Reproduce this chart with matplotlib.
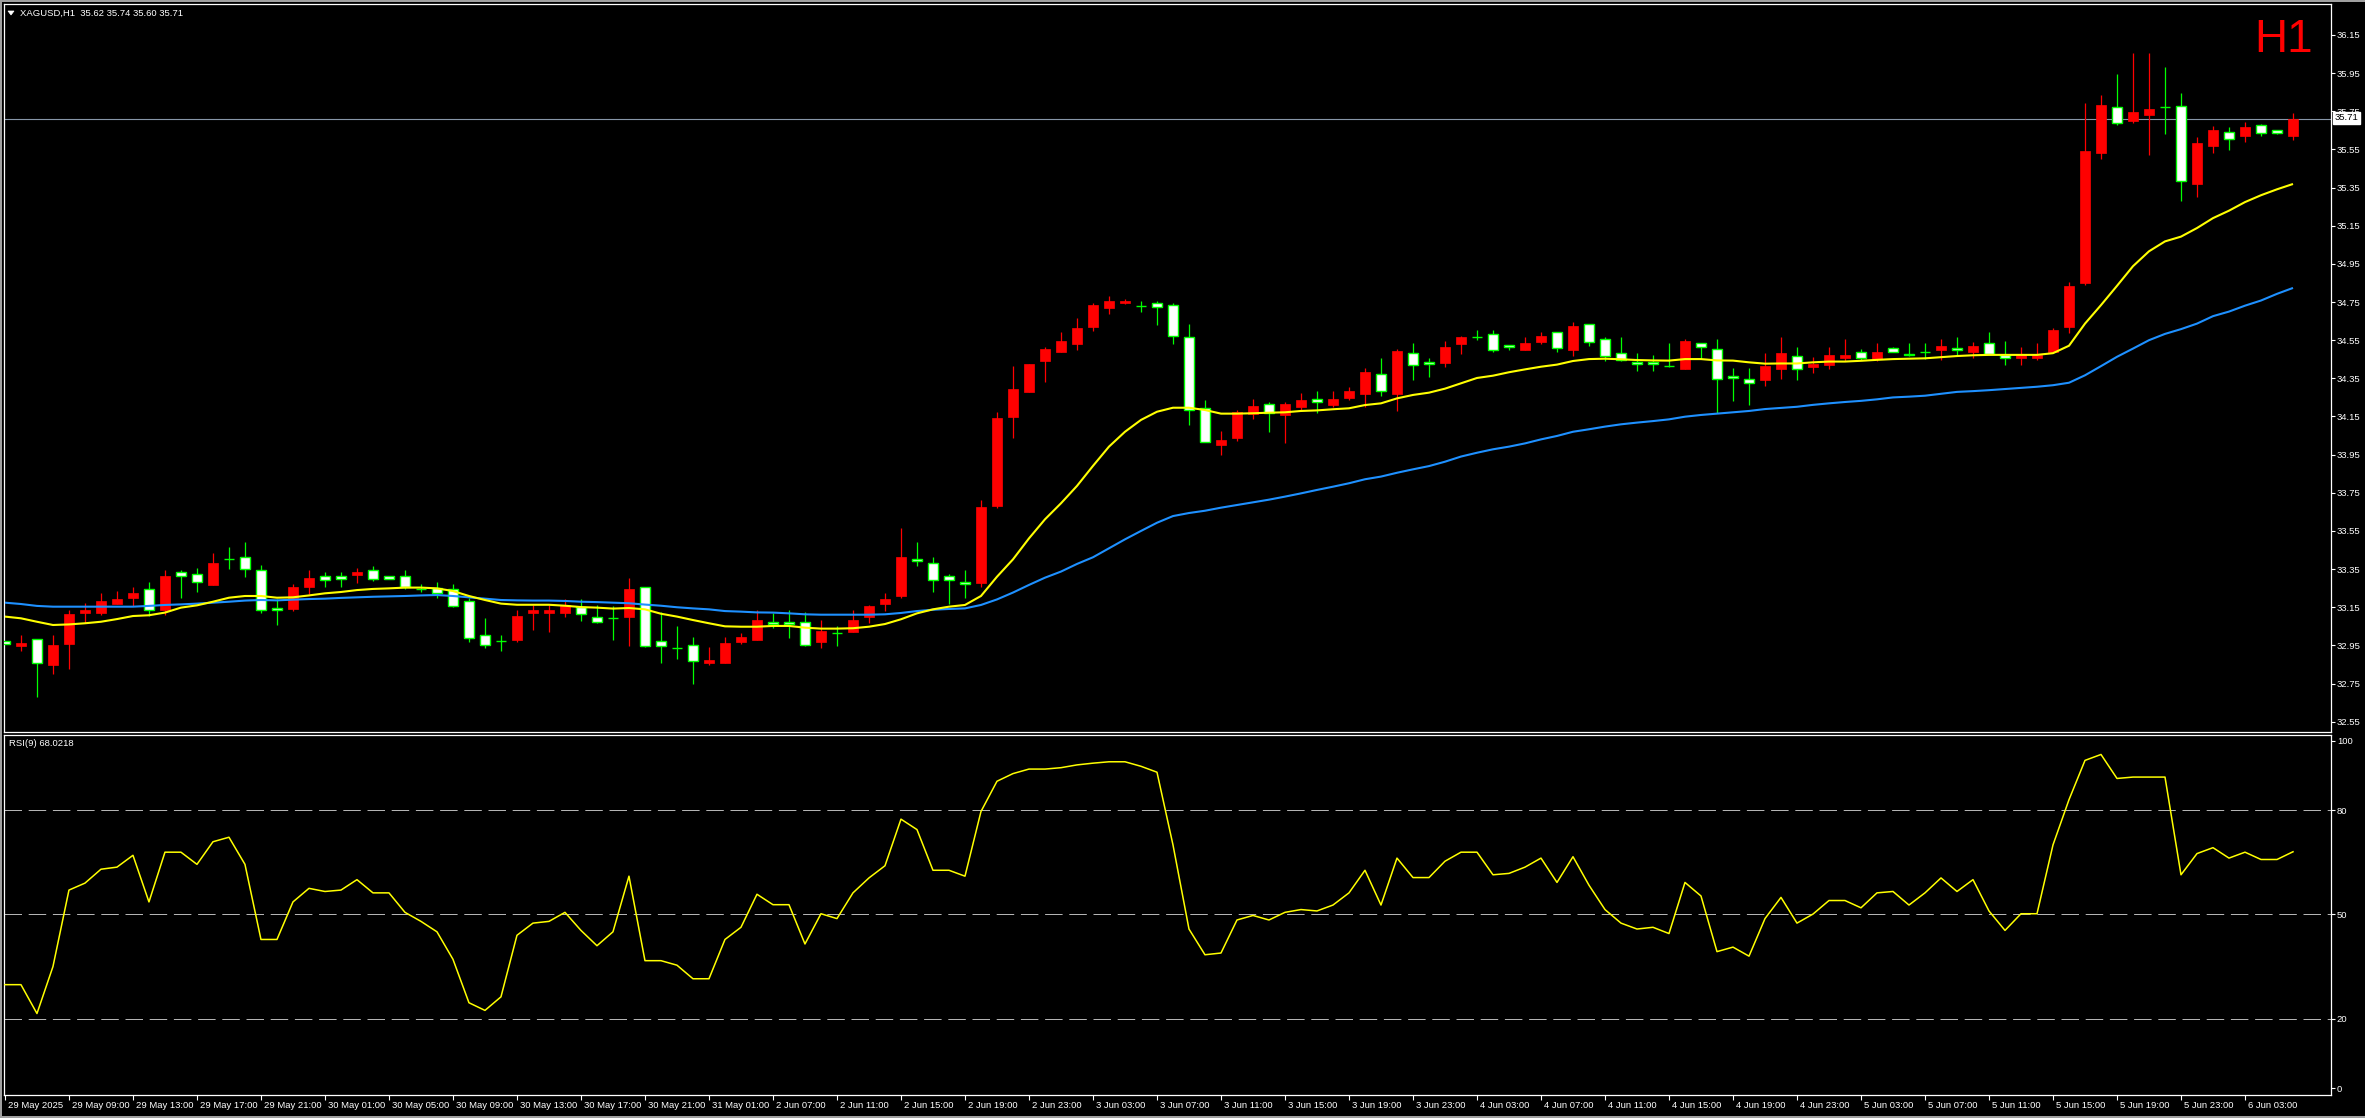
import numpy as np
import matplotlib
matplotlib.use("Agg")
import matplotlib.pyplot as plt
from matplotlib.patches import Rectangle, Polygon
from matplotlib.transforms import ScaledTranslation

# ---------------- data: XAGUSD H1 ----------------
opens = [32.971, 32.949, 32.982, 32.847, 32.959, 33.122, 33.122, 33.169, 33.200, 33.246,
         33.136, 33.333, 33.323, 33.267, 33.401, 33.412, 33.344, 33.146, 33.143, 33.256,
         33.312, 33.314, 33.319, 33.345, 33.314, 33.312, 33.246, 33.251, 33.246, 33.181,
         33.003, 32.971, 32.978, 33.122, 33.122, 33.120, 33.153, 33.101, 33.092, 33.100,
         33.254, 32.971, 32.938, 32.950, 32.860, 32.860, 32.970, 32.980, 33.071, 33.071,
         33.071, 32.970, 33.013, 33.022, 33.100, 33.169, 33.209, 33.401, 33.380, 33.312,
         33.281, 33.279, 33.683, 34.149, 34.280, 34.443, 34.490, 34.532, 34.621, 34.721,
         34.743, 34.729, 34.743, 34.733, 34.565, 34.193, 34.002, 34.039, 34.163, 34.214,
         34.158, 34.200, 34.240, 34.210, 34.247, 34.268, 34.371, 34.268, 34.481, 34.434,
         34.430, 34.532, 34.568, 34.581, 34.523, 34.500, 34.542, 34.591, 34.500, 34.633,
         34.555, 34.481, 34.434, 34.434, 34.413, 34.401, 34.534, 34.502, 34.361, 34.345,
         34.341, 34.399, 34.469, 34.411, 34.420, 34.457, 34.490, 34.453, 34.511, 34.480,
         34.490, 34.500, 34.511, 34.488, 34.533, 34.471, 34.457, 34.457, 34.488, 34.620,
         34.849, 35.531, 35.770, 35.700, 35.729, 35.770, 35.780, 35.370, 35.568, 35.644,
         35.621, 35.679, 35.650, 35.620]
highs = [32.975, 33.004, 32.982, 33.004, 33.136, 33.170, 33.225, 33.235, 33.256, 33.282,
         33.345, 33.345, 33.356, 33.434, 33.466, 33.492, 33.370, 33.195, 33.272, 33.345,
         33.335, 33.335, 33.356, 33.366, 33.316, 33.345, 33.270, 33.282, 33.272, 33.200,
         33.094, 33.003, 33.136, 33.162, 33.162, 33.191, 33.191, 33.162, 33.157, 33.303,
         33.254, 33.123, 33.052, 32.994, 32.942, 32.994, 33.015, 33.136, 33.118, 33.136,
         33.123, 33.083, 33.052, 33.136, 33.162, 33.225, 33.565, 33.492, 33.412, 33.323,
         33.344, 33.712, 34.172, 34.415, 34.427, 34.514, 34.593, 34.666, 34.745, 34.782,
         34.764, 34.754, 34.754, 34.743, 34.635, 34.237, 34.074, 34.184, 34.242, 34.226,
         34.226, 34.273, 34.284, 34.284, 34.305, 34.404, 34.457, 34.504, 34.535, 34.457,
         34.546, 34.572, 34.603, 34.603, 34.525, 34.567, 34.593, 34.593, 34.645, 34.635,
         34.567, 34.567, 34.483, 34.472, 34.535, 34.556, 34.536, 34.556, 34.404, 34.404,
         34.483, 34.566, 34.513, 34.461, 34.513, 34.556, 34.504, 34.533, 34.514, 34.533,
         34.533, 34.556, 34.566, 34.543, 34.593, 34.544, 34.513, 34.535, 34.612, 34.855,
         35.793, 35.834, 35.944, 36.055, 36.055, 35.981, 35.846, 35.615, 35.671, 35.669,
         35.692, 35.681, 35.652, 35.740]
lows = [32.955, 32.921, 32.681, 32.802, 32.826, 33.066, 33.109, 33.165, 33.157, 33.106,
        33.111, 33.200, 33.232, 33.265, 33.350, 33.310, 33.122, 33.057, 33.132, 33.219,
        33.256, 33.256, 33.277, 33.289, 33.298, 33.244, 33.232, 33.200, 33.153, 32.968,
        32.938, 32.921, 32.968, 33.031, 33.020, 33.099, 33.078, 33.069, 32.980, 32.949,
        32.940, 32.858, 32.879, 32.750, 32.849, 32.858, 32.959, 32.978, 33.043, 32.991,
        32.948, 32.938, 32.949, 33.020, 33.069, 33.130, 33.200, 33.368, 33.232, 33.169,
        33.200, 33.258, 33.672, 34.037, 34.278, 34.333, 34.488, 34.500, 34.600, 34.689,
        34.741, 34.700, 34.630, 34.532, 34.103, 34.015, 33.950, 34.023, 34.139, 34.070,
        34.011, 34.184, 34.170, 34.200, 34.236, 34.200, 34.257, 34.179, 34.343, 34.357,
        34.410, 34.478, 34.551, 34.490, 34.500, 34.498, 34.532, 34.490, 34.469, 34.521,
        34.443, 34.439, 34.388, 34.388, 34.411, 34.399, 34.451, 34.167, 34.231, 34.210,
        34.310, 34.347, 34.343, 34.380, 34.399, 34.442, 34.445, 34.442, 34.488, 34.469,
        34.451, 34.444, 34.471, 34.457, 34.478, 34.420, 34.420, 34.444, 34.486, 34.589,
        34.839, 35.500, 35.679, 35.690, 35.520, 35.632, 35.281, 35.299, 35.533, 35.549,
        35.590, 35.621, 35.632, 35.600]
closes = [32.959, 32.963, 32.859, 32.952, 33.115, 33.136, 33.183, 33.193, 33.225, 33.134,
          33.314, 33.312, 33.281, 33.382, 33.401, 33.352, 33.134, 33.134, 33.256, 33.303,
          33.291, 33.300, 33.335, 33.300, 33.300, 33.258, 33.246, 33.223, 33.158, 32.990,
          32.950, 32.971, 33.104, 33.136, 33.136, 33.162, 33.113, 33.071, 33.092, 33.246,
          32.949, 32.949, 32.938, 32.870, 32.874, 32.963, 32.994, 33.083, 33.061, 33.061,
          32.950, 33.025, 33.013, 33.083, 33.157, 33.193, 33.413, 33.391, 33.291, 33.291,
          33.270, 33.676, 34.140, 34.292, 34.425, 34.504, 34.546, 34.614, 34.735, 34.756,
          34.756, 34.729, 34.722, 34.570, 34.184, 34.015, 34.027, 34.174, 34.205, 34.170,
          34.216, 34.236, 34.224, 34.242, 34.284, 34.383, 34.282, 34.493, 34.422, 34.423,
          34.514, 34.567, 34.568, 34.500, 34.513, 34.535, 34.572, 34.511, 34.624, 34.542,
          34.469, 34.446, 34.423, 34.423, 34.413, 34.546, 34.513, 34.345, 34.350, 34.324,
          34.415, 34.482, 34.401, 34.426, 34.471, 34.471, 34.459, 34.490, 34.490, 34.471,
          34.490, 34.521, 34.500, 34.521, 34.480, 34.457, 34.471, 34.471, 34.603, 34.833,
          35.541, 35.782, 35.690, 35.745, 35.760, 35.770, 35.382, 35.582, 35.652, 35.603,
          35.669, 35.634, 35.634, 35.710]

ma_fast = [33.101, 33.092, 33.074, 33.057, 33.060, 33.066, 33.074, 33.088, 33.104, 33.108,
           33.122, 33.148, 33.160, 33.179, 33.200, 33.209, 33.209, 33.200, 33.202, 33.212,
           33.223, 33.230, 33.240, 33.246, 33.249, 33.253, 33.253, 33.249, 33.235, 33.209,
           33.188, 33.169, 33.163, 33.163, 33.163, 33.158, 33.151, 33.148, 33.143, 33.146,
           33.139, 33.116, 33.101, 33.083, 33.066, 33.050, 33.048, 33.048, 33.052, 33.052,
           33.043, 33.038, 33.038, 33.040, 33.048, 33.062, 33.087, 33.118, 33.139, 33.153,
           33.162, 33.209, 33.310, 33.401, 33.511, 33.611, 33.695, 33.786, 33.891, 33.992,
           34.070, 34.132, 34.175, 34.196, 34.196, 34.184, 34.165, 34.165, 34.167, 34.170,
           34.172, 34.179, 34.182, 34.188, 34.193, 34.210, 34.219, 34.245, 34.263, 34.275,
           34.296, 34.324, 34.352, 34.364, 34.382, 34.397, 34.411, 34.422, 34.441, 34.451,
           34.453, 34.450, 34.446, 34.444, 34.443, 34.451, 34.451, 34.444, 34.443, 34.434,
           34.427, 34.428, 34.428, 34.434, 34.438, 34.438, 34.442, 34.447, 34.451, 34.453,
           34.455, 34.461, 34.467, 34.471, 34.473, 34.473, 34.473, 34.473, 34.482, 34.521,
           34.637, 34.734, 34.835, 34.938, 35.016, 35.068, 35.093, 35.138, 35.190, 35.229,
           35.274, 35.310, 35.341, 35.369]
ma_slow = [33.174, 33.167, 33.157, 33.153, 33.153, 33.153, 33.153, 33.153, 33.153, 33.157,
           33.162, 33.165, 33.169, 33.174, 33.179, 33.185, 33.188, 33.186, 33.190, 33.193,
           33.195, 33.199, 33.202, 33.205, 33.207, 33.209, 33.212, 33.214, 33.209, 33.202,
           33.195, 33.188, 33.186, 33.185, 33.185, 33.183, 33.179, 33.177, 33.174, 33.171,
           33.164, 33.158, 33.150, 33.144, 33.139, 33.130, 33.127, 33.123, 33.122, 33.118,
           33.113, 33.111, 33.111, 33.111, 33.111, 33.113, 33.120, 33.130, 33.137, 33.141,
           33.144, 33.162, 33.191, 33.227, 33.267, 33.305, 33.337, 33.377, 33.412, 33.459,
           33.506, 33.550, 33.593, 33.628, 33.644, 33.656, 33.672, 33.686, 33.700, 33.714,
           33.730, 33.747, 33.765, 33.782, 33.800, 33.821, 33.835, 33.855, 33.873, 33.890,
           33.913, 33.940, 33.960, 33.978, 33.992, 34.009, 34.030, 34.048, 34.070, 34.083,
           34.097, 34.109, 34.118, 34.126, 34.135, 34.149, 34.158, 34.165, 34.172, 34.179,
           34.189, 34.195, 34.201, 34.211, 34.219, 34.226, 34.232, 34.240, 34.250, 34.254,
           34.259, 34.269, 34.279, 34.283, 34.288, 34.294, 34.300, 34.306, 34.314, 34.327,
           34.366, 34.414, 34.463, 34.506, 34.550, 34.583, 34.608, 34.637, 34.676, 34.700,
           34.731, 34.758, 34.793, 34.824]

rsi_values = [29.8, 29.8, 21.5, 35.0, 57.0, 59.0, 63.0, 63.6, 67.0, 53.6,
              67.9, 67.9, 64.4, 70.9, 72.2, 64.4, 42.8, 42.8, 53.6, 57.5,
              56.6, 57.0, 60.0, 56.2, 56.2, 50.6, 48.0, 45.0, 37.1, 24.6,
              22.4, 26.3, 44.0, 47.5, 48.0, 50.6, 45.4, 41.0, 45.0, 61.0,
              36.7, 36.7, 35.4, 31.5, 31.5, 42.8, 46.3, 55.8, 52.8, 52.8,
              41.5, 50.2, 48.8, 56.2, 60.5, 64.0, 77.4, 74.4, 62.7, 62.7,
              61.0, 79.6, 88.3, 90.5, 91.8, 91.8, 92.2, 93.0, 93.5, 93.9,
              93.9, 92.6, 90.9, 70.0, 45.8, 38.4, 38.9, 48.4, 49.7, 48.4,
              50.6, 51.4, 51.0, 52.7, 56.2, 62.7, 52.7, 66.2, 60.6, 60.6,
              65.3, 67.9, 67.9, 61.4, 61.8, 63.6, 66.2, 59.2, 66.6, 58.4,
              51.4, 47.5, 45.8, 46.3, 44.5, 59.2, 55.3, 39.3, 40.6, 38.0,
              48.8, 54.9, 47.5, 50.1, 54.0, 54.0, 51.9, 56.2, 56.6, 52.7,
              56.2, 60.5, 56.6, 60.0, 51.0, 45.4, 50.2, 50.2, 70.0, 83.0,
              94.3, 96.0, 89.1, 89.5, 89.5, 89.5, 61.4, 67.5, 69.2, 66.2,
              67.9, 65.8, 65.8, 68.0218]

time_labels = ["29 May 2025", "29 May 09:00", "29 May 13:00", "29 May 17:00", "29 May 21:00",
               "30 May 01:00", "30 May 05:00", "30 May 09:00", "30 May 13:00", "30 May 17:00",
               "30 May 21:00", "31 May 01:00", "2 Jun 07:00", "2 Jun 11:00", "2 Jun 15:00",
               "2 Jun 19:00", "2 Jun 23:00", "3 Jun 03:00", "3 Jun 07:00", "3 Jun 11:00",
               "3 Jun 15:00", "3 Jun 19:00", "3 Jun 23:00", "4 Jun 03:00", "4 Jun 07:00",
               "4 Jun 11:00", "4 Jun 15:00", "4 Jun 19:00", "4 Jun 23:00", "5 Jun 03:00",
               "5 Jun 07:00", "5 Jun 11:00", "5 Jun 15:00", "5 Jun 19:00", "5 Jun 23:00",
               "6 Jun 03:00"]
label_step = 4

price_ticks = [32.55, 32.75, 32.95, 33.15, 33.35, 33.55, 33.75, 33.95, 34.15,
               34.35, 34.55, 34.75, 34.95, 35.15, 35.35, 35.55, 35.75, 35.95, 36.15]
rsi_ticks = [0, 20, 50, 80, 100]
rsi_levels = [20, 50, 80]
symbol = "XAGUSD,H1"
rsi_period = 9

# ---------------- figure layout ----------------
W, H = 2365, 1118
DPI = 100
FONT = "Liberation Sans"
FS = 6.8
plt.rcParams["font.family"] = [FONT, "DejaVu Sans"]

fig = plt.figure(figsize=(W / DPI, H / DPI), dpi=DPI, facecolor="black")


def px_axes(left, top, right, bottom):
    return fig.add_axes([left / W, 1 - bottom / H, (right - left) / W, (bottom - top) / H])


ax_p = px_axes(4, 4, 2331, 732)
ax_r = px_axes(4, 735, 2331, 1095)

n = len(closes)
x = np.arange(n)
o = np.array(opens)
h = np.array(highs)
l = np.array(lows)
c = np.array(closes)

for ax in (ax_p, ax_r):
    ax.set_facecolor("black")
    for sp in ax.spines.values():
        sp.set_color("white")
        sp.set_linewidth(0.9)
    ax.set_xlim(-0.06, 145.375)

# ---------------- candles ----------------
up = c > o
down = c < o
flat = c == o
body_w = 0.66

# last price line under the candles
ax_p.axhline(closes[-1], color="#8796a8", lw=0.8, zorder=1)

ax_p.vlines(x[up], l[up], h[up], color="#ff0000", lw=0.9, zorder=2)
ax_p.vlines(x[~up], l[~up], h[~up], color="#00ff00", lw=0.9, zorder=2)
ax_p.bar(x[up], c[up] - o[up], bottom=o[up], width=body_w, color="#ff0000",
         edgecolor="#ff0000", lw=0.5, zorder=3)
ax_p.bar(x[down], o[down] - c[down], bottom=c[down], width=body_w, facecolor="white",
         edgecolor="#00ff00", lw=1.0, zorder=3)
ax_p.hlines(o[flat], x[flat] - body_w / 2, x[flat] + body_w / 2, color="#00ff00", lw=1.0, zorder=3)

# moving averages
ax_p.plot(x, ma_slow, color="#1e90ff", lw=1.5, zorder=4, solid_capstyle="butt")
ax_p.plot(x, ma_fast, color="#ffff00", lw=1.5, zorder=4, solid_capstyle="butt")

ax_p.set_ylim(32.496, 36.3125)
ax_p.yaxis.tick_right()
ax_p.set_yticks(price_ticks)
ax_p.set_yticklabels([f"{v:.2f}" for v in price_ticks])
ax_p.tick_params(axis="y", direction="out", length=2.9, width=0.8, color="white",
                 labelcolor="white", labelsize=FS, pad=1.4)
ax_p.set_xticks([])

# ---------------- RSI ----------------
for lvl in rsi_levels:
    ln = ax_r.axhline(lvl, color="#b4b4b4", lw=0.72, zorder=1)
    ln.set_dashes([17.5, 6.7])
ax_r.plot(x, rsi_values, color="#ffff00", lw=1.1, zorder=3)
ax_r.set_ylim(-1.93, 101.6)
ax_r.yaxis.tick_right()
ax_r.set_yticks(rsi_ticks)
ax_r.set_yticklabels([str(v) for v in rsi_ticks])
ax_r.tick_params(axis="y", direction="out", length=2.9, width=0.8, color="white",
                 labelcolor="white", labelsize=FS, pad=1.4)

tick_pos = np.arange(len(time_labels)) * label_step
ax_r.set_xticks(tick_pos)
ax_r.set_xticklabels(time_labels)
ax_r.tick_params(axis="x", direction="out", length=3.5, width=0.8, color="white",
                 labelcolor="white", labelsize=FS, pad=0.6)
shift = ScaledTranslation(2 / 72, 0, fig.dpi_scale_trans)
for lab in ax_r.get_xticklabels():
    lab.set_horizontalalignment("left")
    lab.set_transform(lab.get_transform() + shift)

# ---------------- texts ----------------
fig.text(20 / W, 1 - 13 / H,
         f"{symbol}  {opens[-1]:.2f} {highs[-1]:.2f} {lows[-1]:.2f} {closes[-1]:.2f}",
         color="white", fontsize=FS, va="center", ha="left")
fig.patches.append(Polygon([(8 / W, 1 - 11 / H), (14 / W, 1 - 11 / H), (11 / W, 1 - 15 / H)],
                           closed=True, transform=fig.transFigure, facecolor="white",
                           edgecolor="white", lw=0.5))
fig.text(9 / W, 1 - 743 / H, f"RSI({rsi_period}) {rsi_values[-1]:.4f}", color="white",
         fontsize=FS, va="center", ha="left")
fig.text(2254 / W, 1 - 52 / H, "H1", color="#ff0000", fontsize=33, va="baseline",
         ha="left")

# last price marker on the scale
fig.text(2335 / W, 1 - 118 / H, f"{closes[-1]:.2f}", color="black", fontsize=FS,
         va="center", ha="left",
         bbox=dict(boxstyle="square,pad=0.18", facecolor="white", edgecolor="white"))

# window border
for (rx, ry, rw, rh) in [(0, 0, W, 2), (0, 0, 2, H), (0, H - 2, W, 2)]:
    fig.patches.append(Rectangle((rx / W, 1 - (ry + rh) / H), rw / W, rh / H,
                                 transform=fig.transFigure, facecolor="#a0a0a0",
                                 edgecolor="none"))

fig.savefig("out.png", dpi=DPI, facecolor="black")
